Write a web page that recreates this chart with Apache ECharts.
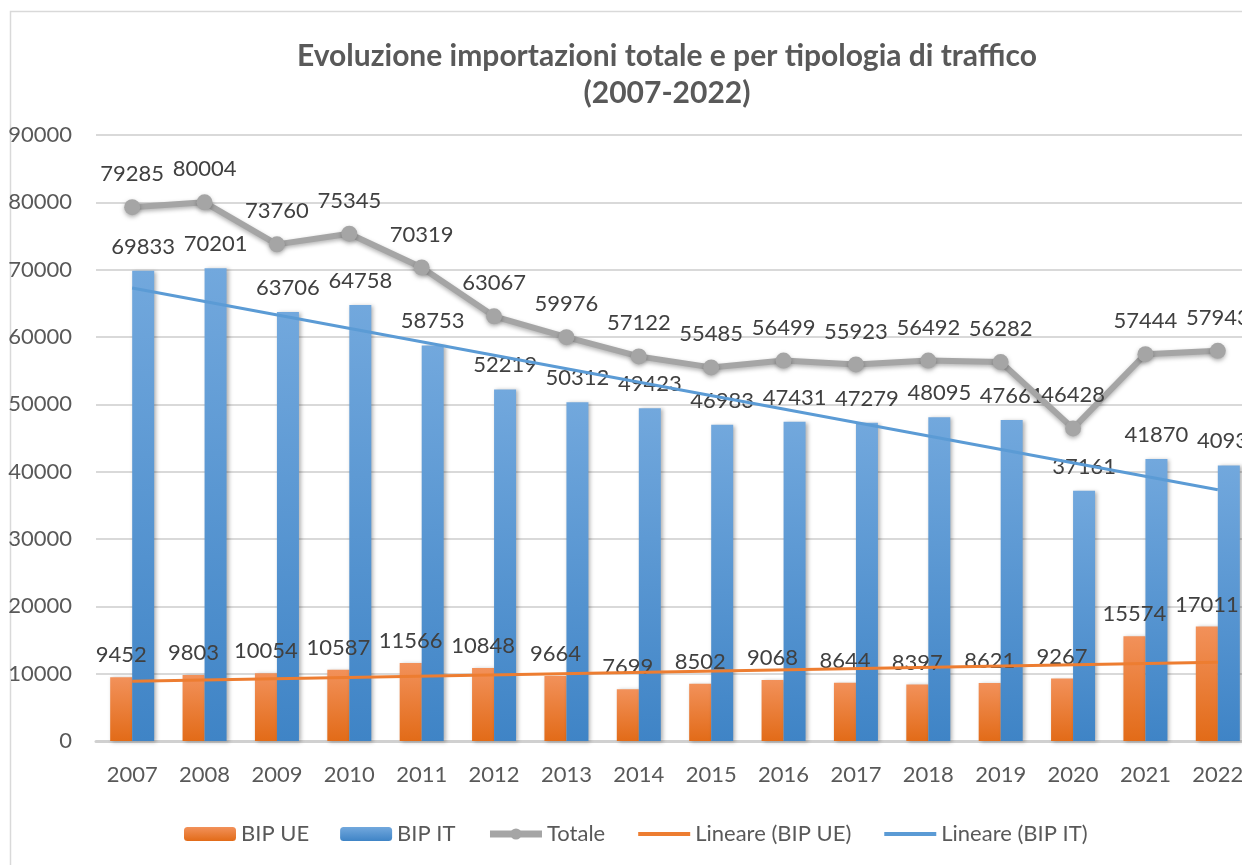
<!DOCTYPE html>
<html>
<head>
<meta charset="utf-8">
<script src="https://cdn.jsdelivr.net/npm/echarts@6/dist/echarts.min.js"></script>
<style>
  html, body { margin: 0; padding: 0; background: #fff; overflow: hidden; }
  #chart { width: 1330px; height: 900px; }
</style>
</head>
<body>
<div id="chart"></div>
<script>
// Import volumes per year, split by traffic type
const years = ["2007", "2008", "2009", "2010", "2011", "2012", "2013", "2014",
  "2015", "2016", "2017", "2018", "2019", "2020", "2021", "2022"]
const bipUE = [9452, 9803, 10054, 10587, 11566, 10848, 9664, 7699,
  8502, 9068, 8644, 8397, 8621, 9267, 15574, 17011]
const bipIT = [69833, 70201, 63706, 64758, 58753, 52219, 50312, 49423,
  46983, 47431, 47279, 48095, 47661, 37161, 41870, 40932]
const totale = [79285, 80004, 73760, 75345, 70319, 63067, 59976, 57122,
  55485, 56499, 55923, 56492, 56282, 46428, 57444, 57943]
// Linear trend lines, start/end values
const trendUE = [8887, 11708]
const trendIT = [67268, 37310]

const FONT = "Lato"
const labelColor = "#404040"
const axisColor = "#595959"

const gradient = (top, bottom) => ({
  type: "linear", x: 0, y: 0, x2: 0, y2: 1,
  colorStops: [{ offset: 0, color: top }, { offset: 1, color: bottom }]
})

const dataLabel = (dist) => ({
  show: true, position: "top", distance: dist,
  fontFamily: FONT, fontSize: 22, color: labelColor
})

const shadow = { shadowColor: "rgba(0,0,0,0.3)", shadowBlur: 4, shadowOffsetX: 2, shadowOffsetY: 1 }

const chart = echarts.init(document.getElementById("chart"), null, { renderer: "canvas" })

chart.setOption({
  backgroundColor: "#fff",
  animation: false,
  title: {
    text: "Evoluzione importazioni totale e per tipologia di traffico\n(2007-2022)",
    left: 662, top: 33, textAlign: "center",
    textStyle: { fontFamily: FONT, fontSize: 30, fontWeight: "bold", color: axisColor, lineHeight: 37 }
  },
  graphic: [{
    type: "rect", silent: true,
    shape: { x: 10.5, y: 11.5, width: 1400, height: 1000 },
    style: { fill: null, stroke: "#d9d9d9", lineWidth: 1.5 }
  }],
  legend: {
    left: 184, top: 823, padding: 0,
    itemWidth: 52, itemHeight: 14, itemGap: 31,
    textStyle: { fontFamily: FONT, fontSize: 22, color: axisColor },
    data: [
      { name: "BIP UE" },
      { name: "BIP IT" },
      { name: "Totale", lineStyle: { width: 7 } },
      { name: "Lineare (BIP UE)", lineStyle: { width: 4 }, itemStyle: { opacity: 0 } },
      { name: "Lineare (BIP IT)", lineStyle: { width: 4 }, itemStyle: { opacity: 0 } }
    ]
  },
  grid: { left: 96, right: 76, top: 135, bottom: 159, containLabel: false },
  xAxis: {
    type: "category", data: years,
    axisTick: { show: false },
    axisLine: { lineStyle: { color: "#d0d0d0", width: 3 } },
    axisLabel: { fontFamily: FONT, fontSize: 22, color: axisColor, margin: 23 }
  },
  yAxis: {
    type: "value", min: 0, max: 90000, interval: 10000,
    axisLine: { show: false },
    axisTick: { show: false },
    splitLine: { lineStyle: { color: "#d9d9d9", width: 2 } },
    axisLabel: { fontFamily: FONT, fontSize: 22, color: axisColor, margin: 24, formatter: (v) => String(v) }
  },
  series: [
    {
      name: "BIP UE", type: "bar", data: bipUE,
      barWidth: 22, barGap: "0%",
      itemStyle: { color: gradient("#f2915a", "#e26b18"), ...shadow },
      label: dataLabel(11),
      z: 2
    },
    {
      name: "BIP IT", type: "bar", data: bipIT,
      barWidth: 22,
      itemStyle: { color: gradient("#72a8dd", "#3f84c6"), ...shadow },
      label: dataLabel(13),
      z: 2
    },
    {
      name: "Totale", type: "line", data: totale,
      symbol: "circle", symbolSize: 16,
      lineStyle: { color: "#a5a5a5", width: 6, shadowColor: "rgba(0,0,0,0.3)", shadowBlur: 4, shadowOffsetY: 2 },
      itemStyle: { color: "#a5a5a5", shadowColor: "rgba(0,0,0,0.3)", shadowBlur: 4, shadowOffsetY: 2 },
      label: dataLabel(14),
      z: 4
    },
    {
      name: "Lineare (BIP UE)", type: "line",
      data: [[years[0], trendUE[0]], [years[years.length - 1], trendUE[1]]],
      symbol: "none",
      lineStyle: { color: "#ed7d31", width: 3 },
      itemStyle: { color: "#ed7d31" },
      z: 3
    },
    {
      name: "Lineare (BIP IT)", type: "line",
      data: [[years[0], trendIT[0]], [years[years.length - 1], trendIT[1]]],
      symbol: "none",
      lineStyle: { color: "#5b9bd5", width: 3 },
      itemStyle: { color: "#5b9bd5" },
      z: 3
    }
  ]
})
</script>
</body>
</html>
